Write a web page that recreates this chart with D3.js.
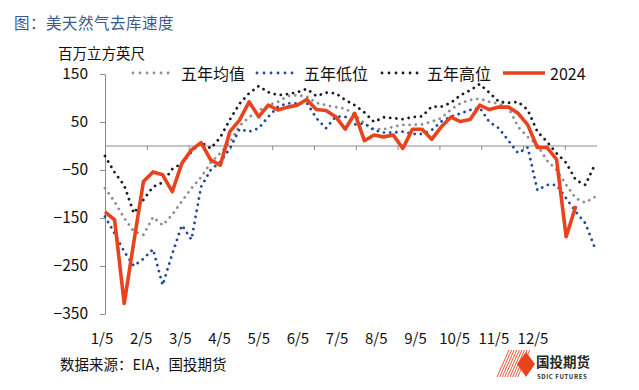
<!DOCTYPE html>
<html><head><meta charset="utf-8">
<script src="https://cdn.jsdelivr.net/npm/d3@7/dist/d3.min.js"></script>
<style>
html,body{margin:0;padding:0;background:#fff;}
svg{display:block;}
text{font-family:"Noto Sans CJK SC","Noto Sans",sans-serif;}
</style></head>
<body>
<svg id="chart" width="639" height="390"></svg>
<script>
// ---- data ----
const monthLabels = ["1/5","2/5","3/5","4/5","5/5","6/5","7/5","8/5","9/5","10/5","11/5","12/5"];
const yTicks = [150, 50, -50, -150, -250, -350];
const seriesNames = ["五年均值", "五年低位", "五年高位", "2024"];
const avg5 = [-88,-116,-150,-178,-185,-148,-165,-143,-115,-88,-65,-35,-15,8,42,60,74,85,92,104,106,103,90,85,81,78,65,47,35,35,40,44,44,45,51,58,76,89,96,99,92,88,79,40,19,2,-30,-50,-81,-109,-118,-106];
const low5 = [-147,-182,-220,-250,-235,-215,-290,-225,-165,-195,-85,-50,-33,-5,35,30,37,61,82,89,89,90,58,37,61,61,45,47,33,28,28,30,25,25,33,51,61,68,75,80,50,37,11,-15,-3,-92,-81,-81,-109,-137,-161,-213];
const high5 = [-21,-55,-82,-140,-112,-85,-76,-48,-36,-12,8,-5,18,55,88,110,125,112,106,108,112,119,104,111,110,96,85,70,50,60,58,56,60,62,82,82,90,106,116,129,111,92,90,92,75,30,9,-15,-35,-71,-81,-38];
const y2024 = [-137,-154,-328,-200,-74,-54,-60,-95,-36,-8,7,-29,-40,30,54,92,61,85,75,81,85,97,76,74,61,35,68,11,23,19,23,-5,35,35,14,40,60,51,55,85,76,81,81,68,44,-3,-3,-28,-189,-125];

const colors = {"五年均值":"#8e8e8e","五年低位":"#1f4a98","五年高位":"#1a1a2a","2024":"#e8431c"};
const seriesData = [
  {name:"五年均值", values:avg5, dotted:true},
  {name:"五年低位", values:low5, dotted:true},
  {name:"五年高位", values:high5, dotted:true},
  {name:"2024", values:y2024, dotted:false}
];

const svg = d3.select("#chart");
svg.append("rect").attr("width",639).attr("height",390).attr("fill","#fff");

const x = d3.scaleLinear().domain([0, 51]).range([105, 595]);
const y = d3.scaleLinear().domain([-350, 150]).range([314, 74]);
const axisColor = "#8a8a8a";

// title
svg.append("text").attr("x",14).attr("y",22).attr("dominant-baseline","central")
  .attr("font-size",15.5).attr("fill","#3a5a8c").attr("letter-spacing",0.5)
  .text("图：美天然气去库速度");
// unit
svg.append("text").attr("x",58).attr("y",52).attr("dominant-baseline","central")
  .attr("font-size",14.5).attr("fill","#111").text("百万立方英尺");

// y axis
const yAxis = d3.axisLeft(y).tickValues(yTicks).tickSize(5).tickSizeOuter(0).tickPadding(12);
const gy = svg.append("g").attr("transform","translate(105,0)").call(yAxis);
gy.select(".domain").attr("stroke",axisColor);
gy.selectAll(".tick line").attr("stroke",axisColor);
gy.selectAll(".tick text").attr("font-size",15.5).attr("fill","#111")
  .attr("font-family","'Noto Sans CJK SC','Noto Sans',sans-serif");

// zero line with month tick marks
const xm = d3.scaleLinear().domain([0, 12]).range([105, 606.6]);
const gx = svg.append("g").attr("transform",`translate(0,${y(0)})`)
  .call(d3.axisBottom(xm).tickValues(d3.range(12)).tickSize(4).tickSizeOuter(0).tickFormat(""));
gx.select(".domain").remove();
gx.selectAll(".tick line").attr("stroke",axisColor);
svg.append("line").attr("x1",105).attr("x2",597).attr("y1",y(0)).attr("y2",y(0))
  .attr("stroke",axisColor).attr("stroke-width",1);

// x labels
const xl = d3.scalePoint().domain(monthLabels).range([102, 533]);
svg.append("g").selectAll("text").data(monthLabels).join("text")
  .attr("x",d=>xl(d)).attr("y",337).attr("text-anchor","middle").attr("dominant-baseline","central")
  .attr("font-size",15).attr("fill","#111").text(d=>d);

// lines
const line = d3.line().x((d,i)=>x(i)).y(d=>y(d));
seriesData.forEach(s=>{
  const p = svg.append("path").datum(s.values).attr("d",line).attr("fill","none")
    .attr("stroke",colors[s.name]);
  if (s.dotted) {
    p.attr("stroke-width",2.8).attr("stroke-dasharray","0.01 6.2").attr("stroke-linecap","round");
  } else {
    p.attr("stroke-width",3.6).attr("stroke-linejoin","round").attr("stroke-linecap","butt");
  }
});

// legend
const legendPos = [{x1:133,x2:175,tx:181},{x1:257,x2:297,tx:304},{x1:382,x2:419,tx:427},{x1:503,x2:545,tx:550}];
seriesData.forEach((s,i)=>{
  const lp = legendPos[i];
  const l = svg.append("line").attr("x1",lp.x1).attr("x2",lp.x2).attr("y1",73).attr("y2",73)
    .attr("stroke",colors[s.name]);
  if (s.dotted) l.attr("stroke-width",2.8).attr("stroke-dasharray","0.01 7").attr("stroke-linecap","round");
  else l.attr("stroke-width",3.6);
  svg.append("text").attr("x",lp.tx).attr("y",73).attr("dominant-baseline","central")
    .attr("font-size",16).attr("fill","#111").text(s.name);
});

// source
svg.append("text").attr("x",60).attr("y",363).attr("dominant-baseline","central")
  .attr("font-size",14.5).attr("fill","#111").text("数据来源：EIA，国投期货");

// logo
const logo = svg.append("g");
d3.range(9).forEach(k=>{
  logo.append("line").attr("x1",497+k*2.6).attr("y1",377).attr("x2",509+k*2.6).attr("y2",350)
    .attr("stroke","#e8431c").attr("stroke-width",0.9);
});
logo.append("path").attr("d","M526,352 L535,364 L526,377 L517,364 Z").attr("fill","#e8431c");
logo.append("text").attr("x",536).attr("y",361).attr("dominant-baseline","central")
  .attr("font-size",13.5).attr("font-weight",700).attr("fill","#2a2a2a").text("国投期货");
logo.append("text").attr("x",537).attr("y",376).attr("dominant-baseline","central")
  .attr("font-size",6).attr("font-weight",700).attr("fill","#2a2a2a").attr("letter-spacing",0.6).text("SDIC FUTURES");
</script>
</body></html>
